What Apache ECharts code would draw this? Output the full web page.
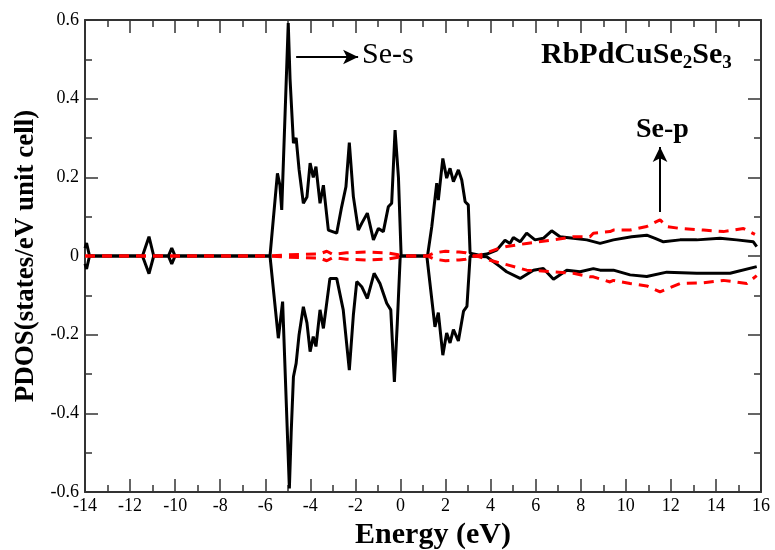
<!DOCTYPE html>
<html>
<head>
<meta charset="utf-8">
<script src="https://cdn.jsdelivr.net/npm/echarts@6/dist/echarts.min.js"></script>
<style>
  html, body { margin: 0; padding: 0; background: #fff; }
  #chart { width: 775px; height: 550px; }
</style>
</head>
<body>
<div id="chart"></div>
<script>
// Se-s, spin up (black)
const sUpE = [-14.0, -13.93, -13.8, -11.45, -11.16, -10.95, -10.3, -10.15, -10.0, -5.79, -5.46, -5.35, -5.27, -4.98, -4.9, -4.75, -4.63, -4.5, -4.31, -4.15, -4.01, -3.87, -3.75, -3.57, -3.42, -3.2, -2.83, -2.61, -2.42, -2.27, -2.09, -1.87, -1.72, -1.47, -1.2, -0.98, -0.76, -0.54, -0.39, -0.24, -0.09, 0.03, 1.2, 1.39, 1.61, 1.68, 1.88, 2.05, 2.2, 2.35, 2.57, 2.72, 2.87, 3.01, 3.09, 3.5, 3.83, 4.27, 4.64, 4.86, 5.01, 5.31, 5.6, 5.97, 6.34, 6.71, 7.08, 7.67, 8.27, 8.86, 9.45, 10.26, 10.93, 11.3, 11.67, 12.41, 13.15, 14.18, 14.92, 15.66, 15.81];
const sUpV = [0.02, 0.033, 0, 0, 0.049, 0, 0, 0.02, 0, 0, 0.21, 0.18, 0.117, 0.592, 0.45, 0.287, 0.3, 0.22, 0.134, 0.15, 0.236, 0.2, 0.227, 0.134, 0.18, 0.066, 0.058, 0.125, 0.176, 0.288, 0.151, 0.066, 0.083, 0.109, 0.041, 0.07, 0.062, 0.125, 0.134, 0.32, 0.2, 0, 0, 0.075, 0.185, 0.142, 0.248, 0.198, 0.223, 0.189, 0.219, 0.193, 0.138, 0.13, 0.007, 0.002, 0.005, 0.015, 0.04, 0.032, 0.047, 0.036, 0.058, 0.041, 0.045, 0.064, 0.049, 0.045, 0.041, 0.032, 0.041, 0.049, 0.053, 0.045, 0.036, 0.041, 0.041, 0.045, 0.041, 0.036, 0.024];

// Se-s, spin down (black)
const sDnE = [-14.0, -13.93, -13.8, -11.45, -11.16, -10.95, -10.3, -10.15, -10.0, -5.79, -5.42, -5.23, -4.93, -4.85, -4.75, -4.63, -4.5, -4.31, -4.15, -4.01, -3.87, -3.75, -3.57, -3.42, -3.13, -2.83, -2.54, -2.27, -2.09, -1.94, -1.72, -1.47, -1.17, -0.91, -0.61, -0.43, -0.27, -0.14, -0.01, 1.17, 1.53, 1.68, 1.88, 2.05, 2.2, 2.35, 2.57, 2.8, 2.95, 3.09, 3.83, 4.42, 4.71, 5.31, 5.9, 6.34, 6.79, 7.38, 7.97, 8.56, 8.86, 9.45, 10.19, 10.93, 11.82, 13.15, 14.63, 15.81];
const sDnV = [-0.02, -0.033, 0, 0, -0.045, 0, 0, -0.02, 0, 0, -0.209, -0.116, -0.591, -0.45, -0.307, -0.273, -0.2, -0.129, -0.17, -0.243, -0.205, -0.23, -0.137, -0.184, -0.057, -0.057, -0.137, -0.29, -0.15, -0.065, -0.078, -0.108, -0.044, -0.07, -0.12, -0.137, -0.32, -0.17, 0, 0, -0.18, -0.144, -0.252, -0.196, -0.221, -0.187, -0.216, -0.14, -0.128, 0, -0.002, -0.027, -0.04, -0.057, -0.036, -0.032, -0.059, -0.036, -0.04, -0.032, -0.036, -0.036, -0.048, -0.052, -0.041, -0.044, -0.044, -0.027];

// Se-p, spin up (red dashed)
const pUpE = [-14.0, -5.8, -5.0, -4.3, -3.6, -3.27, -3.0, -2.4, -1.5, -0.6, -0.1, 0.03, 1.2, 1.5, 2.0, 2.6, 2.9, 3.25, 3.5, 3.8, 4.3, 4.71, 5.6, 6.78, 7.67, 8.41, 8.56, 9.3, 9.45, 10.19, 10.93, 11.52, 11.82, 12.41, 13.45, 14.33, 15.22, 15.73];
const pUpV = [0, 0, 0.003, 0.004, 0.005, 0.012, 0.004, 0.008, 0.01, 0.008, 0.003, 0, 0, 0.008, 0.012, 0.01, 0.008, 0, 0.002, 0.008, 0.018, 0.024, 0.032, 0.041, 0.049, 0.049, 0.058, 0.062, 0.066, 0.066, 0.075, 0.092, 0.075, 0.07, 0.066, 0.062, 0.07, 0.055];

// Se-p, spin down (red dashed)
const pDnE = [-14.0, -5.8, -5.0, -4.3, -3.6, -3.27, -3.0, -2.4, -1.5, -0.6, -0.1, 0.03, 1.2, 1.5, 2.0, 2.6, 2.9, 3.25, 3.5, 3.8, 4.3, 4.71, 5.6, 6.79, 7.67, 8.41, 8.56, 9.3, 9.45, 10.19, 10.93, 11.52, 12.41, 13.45, 14.33, 15.37, 15.81];
const pDnV = [0, 0, -0.003, -0.004, -0.005, -0.012, -0.004, -0.008, -0.01, -0.008, -0.003, 0, 0, -0.008, -0.012, -0.01, -0.008, 0, -0.002, -0.008, -0.016, -0.022, -0.036, -0.04, -0.044, -0.053, -0.053, -0.066, -0.062, -0.07, -0.076, -0.091, -0.07, -0.068, -0.062, -0.07, -0.05];

const xTicks = [-14, 16, 2];   // min, max, interval
const yTicks = [-0.6, 0.6, 0.2];

const zip = (xs, ys) => xs.map((x, i) => [x, ys[i]]);

const serif = '"Liberation Serif", "DejaVu Serif", serif';
const axisColor = '#333';

const axisBase = {
  type: 'value',
  axisLine: { show: true, onZero: false, lineStyle: { color: axisColor, width: 2 } },
  axisTick: { show: true, inside: true, length: 13, lineStyle: { color: axisColor, width: 1.5 } },
  minorTick: { show: true, splitNumber: 2, length: 7, lineStyle: { color: axisColor, width: 1.5 } },
  splitLine: { show: false }
};

const chart = echarts.init(document.getElementById('chart'));

chart.setOption({
  animation: false,
  backgroundColor: '#fff',
  grid: { left: 85, right: 14, top: 20, bottom: 58, containLabel: false, outerBoundsMode: 'none' },
  xAxis: [
    {
      ...axisBase,
      min: xTicks[0], max: xTicks[1], interval: xTicks[2],
      name: 'Energy (eV)',
      nameLocation: 'middle',
      nameGap: 24,
      nameTextStyle: { fontFamily: serif, fontWeight: 'bold', fontSize: 30, color: '#000', padding: [0, 0, 0, 20] },
      axisLabel: { fontFamily: serif, fontSize: 18, color: '#000', margin: 5 }
    },
    {
      ...axisBase,
      position: 'top',
      min: xTicks[0], max: xTicks[1], interval: xTicks[2],
      axisLabel: { show: false }
    }
  ],
  yAxis: [
    {
      ...axisBase,
      min: yTicks[0], max: yTicks[1], interval: yTicks[2],
      name: 'PDOS(states/eV unit cell)',
      nameLocation: 'middle',
      nameGap: 41,
      nameTextStyle: { fontFamily: serif, fontWeight: 'bold', fontSize: 27, color: '#000' },
      axisLabel: {
        fontFamily: serif, fontSize: 18, color: '#000', margin: 6,
        formatter: v => (Math.abs(v) < 1e-9 ? '0' : String(+v.toFixed(1)))
      }
    },
    {
      ...axisBase,
      position: 'right',
      min: yTicks[0], max: yTicks[1], interval: yTicks[2],
      axisLabel: { show: false }
    }
  ],
  series: [
    {
      name: 'Se-s up', type: 'line', showSymbol: false, z: 2,
      data: zip(sUpE, sUpV),
      lineStyle: { color: '#000', width: 3 }
    },
    {
      name: 'Se-s down', type: 'line', showSymbol: false, z: 2,
      data: zip(sDnE, sDnV),
      lineStyle: { color: '#000', width: 3 }
    },
    {
      name: 'Se-p up', type: 'line', showSymbol: false, z: 3,
      data: zip(pUpE, pUpV),
      lineStyle: { color: '#ff0000', width: 3, type: [10, 7] }
    },
    {
      name: 'Se-p down', type: 'line', showSymbol: false, z: 3,
      data: zip(pDnE, pDnV),
      lineStyle: { color: '#ff0000', width: 3, type: [10, 7] }
    },
    {
      // annotation arrows
      type: 'line', data: [], z: 4,
      markLine: {
        silent: true,
        symbol: ['none', 'arrow'],
        symbolSize: [11, 15],
        label: { show: false },
        lineStyle: { color: '#000', width: 2, type: 'solid' },
        data: [
          [{ coord: [-4.63, 0.506] }, { coord: [-1.88, 0.506] }],
          [{ coord: [11.52, 0.112] }, { coord: [11.52, 0.277] }]
        ]
      }
    }
  ],
  graphic: [
    {
      type: 'text', left: 362, top: 40,
      style: { text: 'Se-s', font: '30px ' + serif, fill: '#000' }
    },
    {
      type: 'text', left: 636, top: 116,
      style: { text: 'Se-p', font: 'bold 28px ' + serif, fill: '#000' }
    },
    {
      type: 'text', left: 541, top: 40,
      style: {
        text: '{m|RbPdCuSe}{s|2}{m|Se}{s|3}',
        rich: {
          m: { fontFamily: serif, fontWeight: 'bold', fontSize: 30, fill: '#000', verticalAlign: 'bottom' },
          s: { fontFamily: serif, fontWeight: 'bold', fontSize: 19, fill: '#000', verticalAlign: 'bottom', padding: [0, 0, -3, 0] }
        }
      }
    }
  ]
});
</script>
</body>
</html>
